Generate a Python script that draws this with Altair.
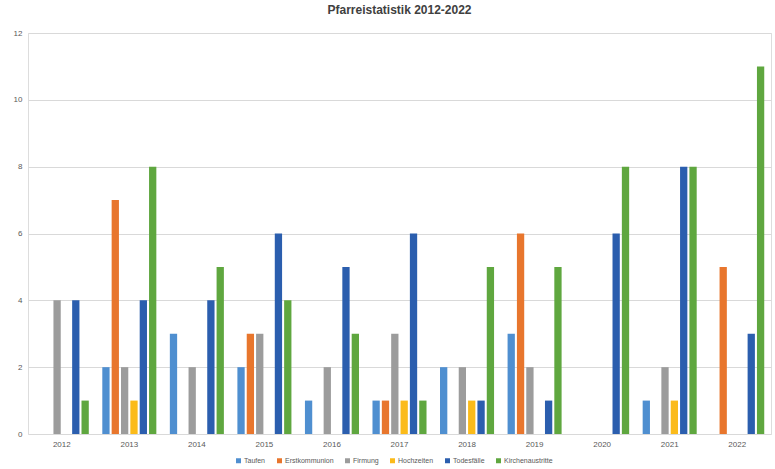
import altair as alt
import pandas as pd

years = ["2012", "2013", "2014", "2015", "2016", "2017", "2018", "2019", "2020", "2021", "2022"]
series = ["Taufen", "Erstkommunion", "Firmung", "Hochzeiten", "Todesfälle", "Kirchenaustritte"]
colors = ["#4F8FD0", "#E8762D", "#9C9C9C", "#FBBB1A", "#2B5EAE", "#5FA73F"]

taufen = [0, 2, 3, 2, 1, 1, 2, 3, 0, 1, 0]
erstkommunion = [0, 7, 0, 3, 0, 1, 0, 6, 0, 0, 5]
firmung = [4, 2, 2, 3, 2, 3, 2, 2, 0, 2, 0]
hochzeiten = [0, 1, 0, 0, 0, 1, 1, 0, 0, 1, 0]
todesfaelle = [4, 4, 4, 6, 5, 6, 1, 1, 6, 8, 3]
kirchenaustritte = [1, 8, 5, 4, 3, 1, 5, 5, 8, 8, 11]

values = [taufen, erstkommunion, firmung, hochzeiten, todesfaelle, kirchenaustritte]
rows = []
for s, vals in zip(series, values):
    for y, v in zip(years, vals):
        rows.append({"Jahr": y, "Kategorie": s, "Anzahl": v})
df = pd.DataFrame(rows)

font = "Liberation Sans"

chart = alt.Chart(df).mark_bar().encode(
    x=alt.X("Jahr:N", sort=years, title=None,
            scale=alt.Scale(paddingInner=0.2, paddingOuter=0.1),
            axis=alt.Axis(labelAngle=0, domain=False, ticks=False, labelFontSize=8,
                          labelColor="#595959", labelPadding=6, labelFont=font)),
    xOffset=alt.XOffset("Kategorie:N", sort=series, scale=alt.Scale(paddingInner=0.22)),
    y=alt.Y("Anzahl:Q", title=None,
            scale=alt.Scale(domain=[0, 12], nice=False),
            axis=alt.Axis(values=[0, 2, 4, 6, 8, 10, 12], domain=False, ticks=False,
                          labelFontSize=8, labelColor="#595959", labelPadding=6,
                          gridColor="#D9D9D9", gridWidth=1, labelFont=font)),
    color=alt.Color("Kategorie:N", sort=series,
                    scale=alt.Scale(domain=series, range=colors),
                    legend=alt.Legend(title=None, orient="none", direction="horizontal",
                                      legendX=207, legendY=424, symbolType="square",
                                      symbolSize=25, labelFontSize=7, labelColor="#595959",
                                      columnPadding=10, symbolOffset=0, labelOffset=2,
                                      labelFont=font)),
).properties(
    width=743,
    height=401,
    title=alt.TitleParams("Pfarreistatistik 2012-2022", fontSize=12, fontWeight="bold",
                          color="#404040", anchor="middle", offset=12, font=font),
    autosize=alt.AutoSizeParams(type="none"),
    padding={"left": 28, "top": 33, "right": 4, "bottom": 35},
).configure_view(stroke=None).configure(background="white")

chart.save("out.html", embed_options={"renderer": "svg", "actions": False})
